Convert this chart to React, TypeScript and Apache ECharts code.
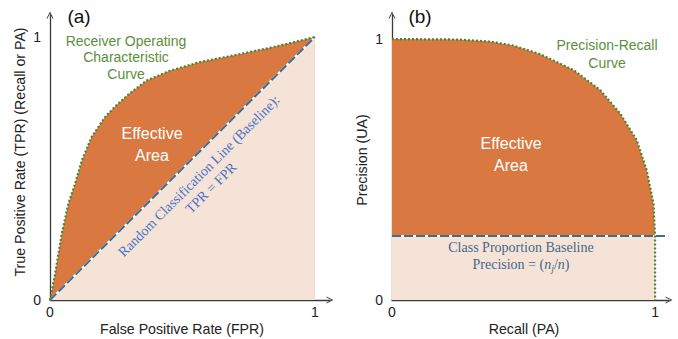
import React, { useEffect, useRef } from "react";
import * as echarts from "echarts";

// ROC curve (FPR, TPR)
const rocCurve: [number, number][] = [
  [0, 0], [0.019, 0.098], [0.044, 0.25], [0.069, 0.365], [0.094, 0.44],
  [0.12, 0.53], [0.157, 0.62], [0.208, 0.696], [0.25, 0.74], [0.3, 0.785],
  [0.365, 0.835], [0.453, 0.872], [0.566, 0.905], [0.705, 0.933],
  [0.843, 0.962], [1, 1],
];
// Random classification baseline TPR = FPR
const diagonal: [number, number][] = [[0, 0], [1, 1]];

// Precision-Recall curve (Recall, Precision)
const prCurve: [number, number][] = [
  [0, 1], [0.25, 0.998], [0.373, 0.99], [0.461, 0.975], [0.563, 0.942],
  [0.69, 0.881], [0.791, 0.805], [0.867, 0.715], [0.93, 0.613],
  [0.968, 0.498], [0.994, 0.37], [1, 0.245], [1, 0],
];
const classProportion = 0.245;
const baselineFill: [number, number][] = [[0, classProportion], [1, classProportion]];
const baselineLine: [number, number][] = [[0, classProportion], [1.05, classProportion]];

const tickValues = [0, 1];

const ORANGE = "#D97841";
const PINK = "#F6E3D8";
const DASH = "#3C6D8F";
const GREEN_LINE = "#4A8530";
const GREEN_TEXT = "#5B8F3B";
const AXIS = "#3a3a3a";
const SANS = "'Liberation Sans', Arial, sans-serif";
const SERIF = "'Liberation Serif', 'Times New Roman', serif";
const CHEVRON = "path://M0,10 L5,0 L10,10 L8.6,10 L5,2.8 L1.4,10 Z";

export default function App() {
  const ref = useRef<HTMLDivElement>(null);
  useEffect(() => {
    if (!ref.current) return;
    const chart = echarts.init(ref.current, null, { renderer: "svg" });

    const axisCommon = (isX: boolean, max: number) => ({
      type: "value" as const,
      min: 0,
      max,
      axisLine: {
        show: true,
        symbol: ["none", CHEVRON],
        symbolSize: [9, 7],
        lineStyle: { color: AXIS, width: 1.3 },
      },
      axisTick: { show: false },
      splitLine: { show: false },
      axisLabel: {
        customValues: tickValues,
        color: "#222",
        fontSize: 14,
        fontFamily: SANS,
        margin: isX ? 5 : 9,
      },
    });

    const area = (data: [number, number][], color: string, xi: number, z: number) => ({
      type: "line" as const,
      data,
      xAxisIndex: xi,
      yAxisIndex: xi,
      symbol: "none",
      lineStyle: { width: 0, opacity: 0 },
      areaStyle: { color, opacity: 1 },
      z,
      silent: true,
    });
    const line = (
      data: [number, number][],
      color: string,
      width: number,
      type: any,
      xi: number,
      z: number
    ) => ({
      type: "line" as const,
      data,
      xAxisIndex: xi,
      yAxisIndex: xi,
      symbol: "none",
      lineStyle: { color, width, type, cap: "butt" },
      z,
      silent: true,
    });

    const text = (
      x: number,
      y: number,
      t: string,
      font: string,
      color: string,
      extra: any = {}
    ) => ({
      type: "text",
      x,
      y,
      z: 100,
      ...extra,
      style: {
        text: t,
        font,
        fill: color,
        align: "center",
        verticalAlign: "middle",
        ...(extra.style || {}),
      },
    });

    chart.setOption({
      animation: false,
      grid: [
        { left: 50, top: 15, width: 280, height: 285 },
        { left: 392, top: 15, width: 277, height: 285 },
      ],
      xAxis: [
        { ...axisCommon(true, 1.057), gridIndex: 0 },
        { ...axisCommon(true, 1.053), gridIndex: 1 },
      ],
      yAxis: [
        { ...axisCommon(false, 1.084), gridIndex: 0 },
        { ...axisCommon(false, 1.092), gridIndex: 1 },
      ],
      series: [
        area(rocCurve, ORANGE, 0, 1),
        area(diagonal, PINK, 0, 2),
        line(diagonal, "#ffffff", 2, "solid", 0, 3),
        line(diagonal, DASH, 2, [9, 3], 0, 4),
        line(rocCurve, GREEN_LINE, 2.2, [2, 2], 0, 5),

        area(prCurve, ORANGE, 1, 1),
        area(baselineFill, PINK, 1, 2),
        line(baselineLine, "#ffffff", 2, "solid", 1, 3),
        line(baselineLine, DASH, 2, [9, 3], 1, 4),
        line(prCurve, GREEN_LINE, 2.2, [2, 2], 1, 5),
      ],
      graphic: [
        text(79, 16, "(a)", `19px ${SANS}`, "#111"),
        text(420, 16, "(b)", `19px ${SANS}`, "#111"),
        text(182, 329, "False Positive Rate (FPR)", `14.2px ${SANS}`, "#222"),
        text(524, 329, "Recall (PA)", `14.2px ${SANS}`, "#222"),
        text(20, 152, "True Positive Rate (TPR) (Recall or PA)", `14.2px ${SANS}`, "#222", {
          rotation: Math.PI / 2,
        }),
        text(362, 160, "Precision (UA)", `14.2px ${SANS}`, "#222", {
          rotation: Math.PI / 2,
        }),
        text(126, 57, "Receiver Operating\nCharacteristic\nCurve", `14px ${SANS}`, GREEN_TEXT, {
          style: { lineHeight: 16.5 },
        }),
        text(607, 54, "Precision-Recall\nCurve", `14px ${SANS}`, GREEN_TEXT, {
          style: { lineHeight: 18 },
        }),
        text(152, 144, "Effective\nArea", `16px ${SANS}`, "#ffffff", {
          style: { lineHeight: 22 },
        }),
        text(511, 154, "Effective\nArea", `16px ${SANS}`, "#ffffff", {
          style: { lineHeight: 22 },
        }),
        text(205, 182, "Random Classification Line (Baseline):\nTPR = FPR", `14px ${SERIF}`, "#4A72C4", {
          rotation: Math.PI / 4,
          style: { lineHeight: 17 },
        }),
        text(521, 247, "Class Proportion Baseline", `14px ${SERIF}`, "#3E6A8C"),
        {
          type: "text",
          x: 521,
          y: 264,
          z: 100,
          style: {
            text: "{r|Precision = (}{i|n}{s|j}{r|/}{i|n}{r|)}",
            align: "center",
            verticalAlign: "middle",
            fill: "#3E6A8C",
            font: `14px ${SERIF}`,
            rich: {
              r: { fontSize: 14, fontFamily: SERIF, fill: "#3E6A8C", color: "#3E6A8C", lineHeight: 18 },
              i: { fontSize: 14, fontFamily: SERIF, fontStyle: "italic", fill: "#3E6A8C", color: "#3E6A8C", lineHeight: 18 },
              s: { fontSize: 10, fontFamily: SERIF, fontStyle: "italic", fill: "#3E6A8C", color: "#3E6A8C", lineHeight: 18, verticalAlign: "bottom", padding: [6, 0, 0, 0] },
            },
          },
        },
      ],
    });
    return () => chart.dispose();
  }, []);
  return (
    <div
      ref={ref}
      style={{ position: "fixed", left: 0, top: 0, width: 678, height: 339, background: "#fff" }}
    />
  );
}
